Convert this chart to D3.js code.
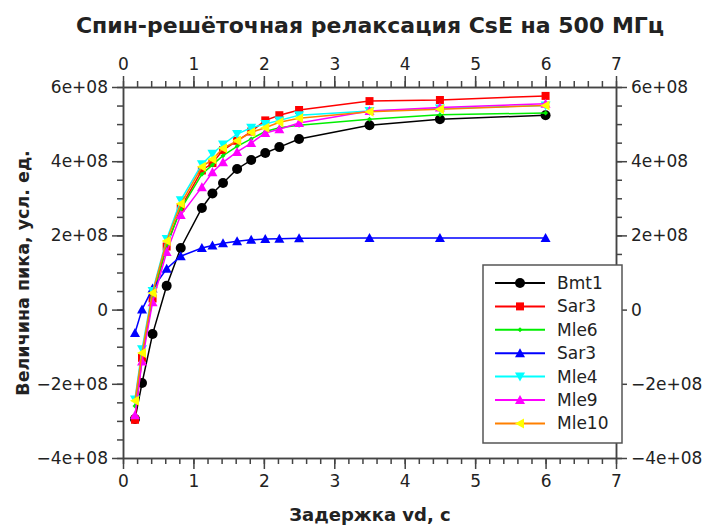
<!DOCTYPE html>
<html>
<head>
<meta charset="utf-8">
<script src="https://cdn.jsdelivr.net/npm/d3@7"></script>
<style>
  body { margin: 0; background: #fff; }
  svg { display: block; }
  text { font-family: "DejaVu Sans", sans-serif; fill: #222; }
</style>
</head>
<body>
<svg id="chart" width="710" height="527"></svg>
<script>
// delay times, s
var delays = [0.17, 0.27, 0.42, 0.62, 0.82, 1.12, 1.27, 1.42, 1.62, 1.82, 2.02, 2.22, 2.5, 3.5, 4.5, 6.0];

// peak values, arbitrary units (x1e8)
var bmt1  = [-2.95, -1.98, -0.66, 0.64, 1.66, 2.74, 3.13, 3.41, 3.79, 4.03, 4.22, 4.38, 4.60, 4.97, 5.13, 5.24];
var sar3  = [-2.97, -1.30, 0.30, 1.70, 2.75, 3.75, 3.95, 4.30, 4.55, 4.80, 5.10, 5.24, 5.38, 5.62, 5.65, 5.76];
var mle6  = [-2.60, -1.20, 0.35, 1.75, 2.70, 3.65, 3.90, 4.15, 4.40, 4.60, 4.80, 4.90, 4.97, 5.13, 5.25, 5.30];
var sar3b = [-0.63, 0.00, 0.57, 1.10, 1.44, 1.66, 1.73, 1.79, 1.84, 1.88, 1.90, 1.91, 1.92, 1.93, 1.93, 1.93];
var mle4  = [-2.42, -1.07, 0.50, 1.90, 2.95, 3.92, 4.20, 4.45, 4.73, 4.90, 5.00, 5.10, 5.24, 5.35, 5.42, 5.50];
var mle9  = [-2.85, -1.40, 0.20, 1.55, 2.55, 3.30, 3.70, 3.97, 4.25, 4.49, 4.76, 4.86, 5.03, 5.35, 5.45, 5.55];
var mle10 = [-2.46, -1.17, 0.45, 1.85, 2.85, 3.85, 4.05, 4.35, 4.55, 4.78, 4.90, 5.05, 5.16, 5.33, 5.40, 5.50];

var seriesNames = ["Bmt1", "Sar3", "Mle6", "Sar3", "Mle4", "Mle9", "Mle10"];
var seriesData = [bmt1, sar3, mle6, sar3b, mle4, mle9, mle10];
var lineColors = ["#000000", "#ff0000", "#00ee00", "#0000ff", "#00ffff", "#ff00ff", "#ff8000"];
var markColors = ["#000000", "#ff0000", "#00ee00", "#0000ff", "#00ffff", "#ff00ff", "#ffff00"];
var markShapes = ["circle", "square", "diamond", "up", "down", "up", "left"];

var xTicks = [0, 1, 2, 3, 4, 5, 6, 7];
var yTicks = [-4e8, -2e8, 0, 2e8, 4e8, 6e8];

var svg = d3.select("#chart");
var pLeft = 123, pRight = 616, pTop = 87, pBottom = 458;

var x = d3.scaleLinear().domain([0, 7]).range([pLeft, pRight]);
var y = d3.scaleLinear().domain([-4e8, 6e8]).range([pBottom, pTop]);

function yFmt(v) {
  if (v === 0) return "0";
  return (v < 0 ? "\u2212" : "") + Math.abs(v / 1e8) + "e+08";
}

var axisColor = "#444";
function styleAxis(g) {
  g.selectAll("path, line").attr("stroke", axisColor).attr("stroke-width", 1.5);
  g.selectAll("text").style("font-size", "17px").attr("fill", "#222");
}

var xMinor = d3.range(0, 7.001, 0.2);
var yMinor = d3.range(-4e8, 6.001e8, 0.5e8);

// minor ticks
svg.append("g").attr("transform", "translate(0," + pBottom + ")")
  .call(d3.axisBottom(x).tickValues(xMinor).tickFormat("").tickSize(6).tickSizeOuter(0)).call(styleAxis);
svg.append("g").attr("transform", "translate(0," + pTop + ")")
  .call(d3.axisTop(x).tickValues(xMinor).tickFormat("").tickSize(6).tickSizeOuter(0)).call(styleAxis);
svg.append("g").attr("transform", "translate(" + pLeft + ",0)")
  .call(d3.axisLeft(y).tickValues(yMinor).tickFormat("").tickSize(6).tickSizeOuter(0)).call(styleAxis);
svg.append("g").attr("transform", "translate(" + pRight + ",0)")
  .call(d3.axisRight(y).tickValues(yMinor).tickFormat("").tickSize(6).tickSizeOuter(0)).call(styleAxis);

// major ticks
svg.append("g").attr("transform", "translate(0," + pBottom + ")")
  .call(d3.axisBottom(x).tickValues(xTicks).tickFormat(d3.format("d")).tickSize(11).tickPadding(6).tickSizeOuter(0)).call(styleAxis);
svg.append("g").attr("transform", "translate(0," + pTop + ")")
  .call(d3.axisTop(x).tickValues(xTicks).tickFormat(d3.format("d")).tickSize(11).tickPadding(6).tickSizeOuter(0)).call(styleAxis);
svg.append("g").attr("transform", "translate(" + pLeft + ",0)")
  .call(d3.axisLeft(y).tickValues(yTicks).tickFormat(yFmt).tickSize(11).tickPadding(4).tickSizeOuter(0)).call(styleAxis);
svg.append("g").attr("transform", "translate(" + pRight + ",0)")
  .call(d3.axisRight(y).tickValues(yTicks).tickFormat(yFmt).tickSize(11).tickPadding(4).tickSizeOuter(0)).call(styleAxis);

// series
var line = d3.line().x(function(d) { return x(d[0]); }).y(function(d) { return y(d[1] * 1e8); });

function shapePath(shape, s) {
  if (shape === "square") return "M" + (-s) + "," + (-s) + "H" + s + "V" + s + "H" + (-s) + "Z";
  if (shape === "diamond") return "M0," + (-s) + "L" + s + ",0L0," + s + "L" + (-s) + ",0Z";
  if (shape === "up") return "M0," + (-s) + "L" + s + "," + (s * 0.8) + "L" + (-s) + "," + (s * 0.8) + "Z";
  if (shape === "down") return "M0," + s + "L" + s + "," + (-s * 0.8) + "L" + (-s) + "," + (-s * 0.8) + "Z";
  if (shape === "left") return "M" + (-s) + ",0L" + (s * 0.8) + "," + (-s) + "L" + (s * 0.8) + "," + s + "Z";
  return null;
}
var markSize = [5, 4, 2.5, 5, 5, 5, 5];

function drawMarker(g, i, cx, cy) {
  var shape = markShapes[i];
  if (shape === "circle") {
    g.append("circle").attr("cx", cx).attr("cy", cy).attr("r", markSize[i]).attr("fill", markColors[i]);
  } else {
    g.append("path").attr("d", shapePath(shape, markSize[i]))
      .attr("transform", "translate(" + cx + "," + cy + ")").attr("fill", markColors[i]);
  }
}

var plot = svg.append("g");
seriesData.forEach(function(vals, i) {
  var pts = delays.map(function(t, k) { return [t, vals[k]]; });
  var g = plot.append("g");
  g.append("path").datum(pts).attr("d", line).attr("fill", "none")
    .attr("stroke", lineColors[i]).attr("stroke-width", 1.5);
  pts.forEach(function(p) { drawMarker(g, i, x(p[0]), y(p[1] * 1e8)); });
});

// legend
var lg = svg.append("g");
lg.append("rect").attr("x", 483).attr("y", 265).attr("width", 139).attr("height", 178)
  .attr("fill", "#fff").attr("stroke", "#555").attr("stroke-width", 1.5);
seriesNames.forEach(function(name, i) {
  var ly = 283 + i * 23.4;
  lg.append("line").attr("x1", 495).attr("x2", 545).attr("y1", ly).attr("y2", ly)
    .attr("stroke", lineColors[i]).attr("stroke-width", 2);
  drawMarker(lg, i, 520, ly);
  lg.append("text").attr("x", 557).attr("y", ly + 6).style("font-size", "17px").text(name);
});

// titles
svg.append("text").attr("x", 370).attr("y", 33).attr("text-anchor", "middle")
  .style("font-size", "22px").style("font-weight", "bold").attr("fill", "#111")
  .text("Спин-решёточная релаксация CsE на 500 МГц");
svg.append("text").attr("x", 370).attr("y", 521).attr("text-anchor", "middle")
  .style("font-size", "18px").style("font-weight", "bold").attr("fill", "#111")
  .text("Задержка vd, с");
svg.append("text").attr("transform", "translate(29,273) rotate(-90)").attr("text-anchor", "middle")
  .style("font-size", "17.5px").style("font-weight", "bold").attr("fill", "#111")
  .text("Величина пика, усл. ед.");
</script>
</body>
</html>
